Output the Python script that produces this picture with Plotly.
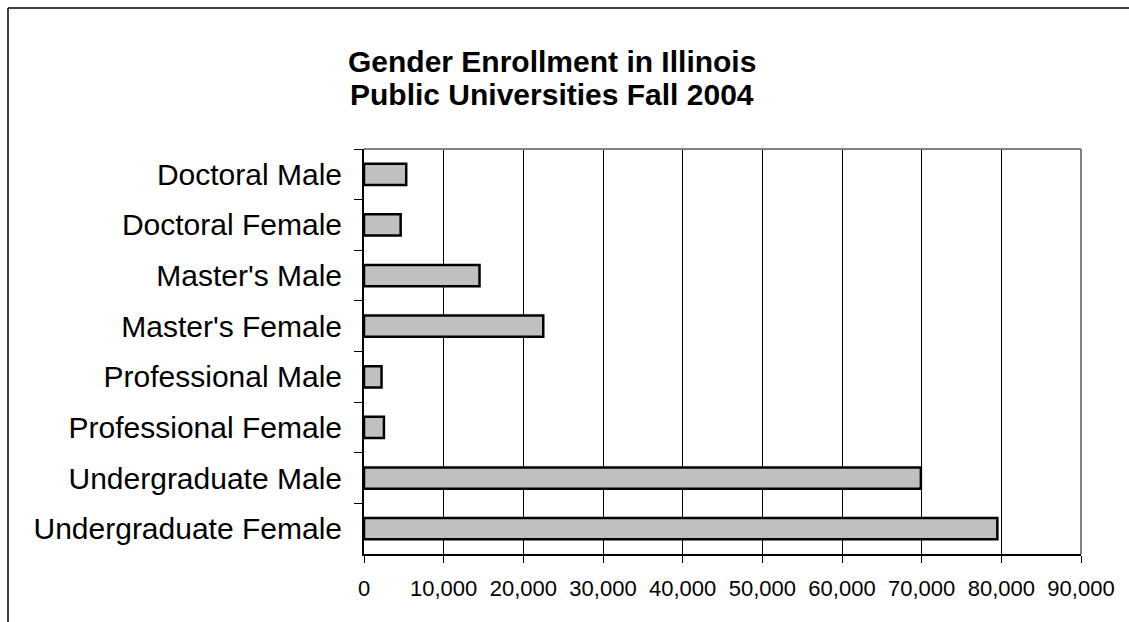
import plotly.graph_objects as go

# Enrollment by level and gender, Illinois public universities, Fall 2004
categories = [
    "Doctoral Male",
    "Doctoral Female",
    "Master's Male",
    "Master's Female",
    "Professional Male",
    "Professional Female",
    "Undergraduate Male",
    "Undergraduate Female",
]
enrollment = [5300, 4600, 14500, 22500, 2200, 2500, 69900, 79500]
x_ticks = [0, 10000, 20000, 30000, 40000, 50000, 60000, 70000, 80000, 90000]
title_lines = ["Gender Enrollment in Illinois", "Public Universities Fall 2004"]

W, H = 1129, 622
L, R, T, B = 364, 48, 149, 68
pw, ph = W - L - R, H - T - B


def px_x(x):
    return (x - L) / pw


def px_y(y):
    return 1 - (y - T) / ph


fig = go.Figure(
    go.Bar(
        x=enrollment,
        y=categories,
        orientation="h",
        width=0.42,
        marker=dict(color="#C0C0C0", line=dict(color="#000000", width=2.5)),
        hoverinfo="x+y",
    )
)

fig.update_layout(
    width=W,
    height=H,
    margin=dict(l=L, r=R, t=T, b=B, pad=0),
    paper_bgcolor="white",
    plot_bgcolor="white",
    showlegend=False,
    font=dict(family="Liberation Sans, Arial, sans-serif", color="#000000"),
    xaxis=dict(
        range=[0, 90000],
        tickmode="array",
        tickvals=x_ticks,
        tickformat=",",
        showgrid=True,
        gridcolor="#000000",
        gridwidth=1,
        showline=True,
        linecolor="#000000",
        linewidth=1.5,
        ticks="outside",
        ticklen=7,
        tickcolor="#000000",
        tickfont=dict(size=22),
        ticklabelstandoff=7,
        zeroline=False,
        fixedrange=True,
    ),
    yaxis=dict(
        categoryorder="array",
        categoryarray=categories,
        autorange="reversed",
        tickson="boundaries",
        ticks="outside",
        ticklen=8,
        tickcolor="#000000",
        showline=True,
        linecolor="#000000",
        linewidth=2,
        showgrid=False,
        tickfont=dict(size=30),
        ticklabelstandoff=14,
        fixedrange=True,
    ),
    shapes=[
        # gray frame on the top and right of the plotting area
        dict(type="line", xref="paper", yref="paper", x0=0, x1=1, y0=1, y1=1,
             line=dict(color="#808080", width=2)),
        dict(type="line", xref="paper", yref="paper", x0=1, x1=1, y0=0, y1=1,
             line=dict(color="#808080", width=2)),
        # outer chart border
        dict(type="line", xref="paper", yref="paper",
             x0=px_x(8), x1=px_x(W + 5), y0=px_y(8), y1=px_y(8),
             line=dict(color="#000000", width=1.5)),
        dict(type="line", xref="paper", yref="paper",
             x0=px_x(8), x1=px_x(8), y0=px_y(8), y1=px_y(H + 5),
             line=dict(color="#000000", width=1.5)),
    ],
    annotations=[
        dict(
            text="<b>" + line + "</b>",
            xref="paper", yref="paper",
            x=px_x(552), y=px_y(yc),
            xanchor="center", yanchor="middle",
            showarrow=False,
            font=dict(size=30, color="#000000"),
        )
        for line, yc in zip(title_lines, [61, 94])
    ],
)

fig.write_html("out.html")
